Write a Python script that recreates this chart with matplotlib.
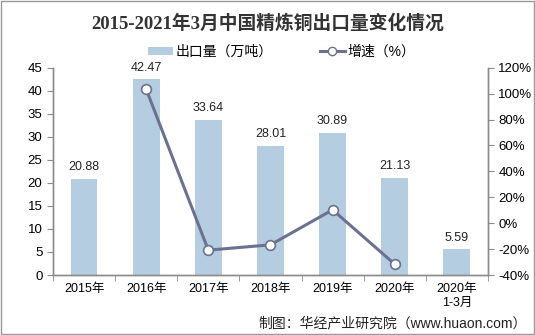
import numpy as np
import matplotlib.pyplot as plt
from matplotlib.lines import Line2D
from matplotlib.patches import Patch

plt.rcParams['font.family'] = ['Liberation Sans', 'Noto Sans CJK SC']

# Data
years = ['2015年', '2016年', '2017年', '2018年', '2019年', '2020年', '2020年\n1-3月']
export_vol = [20.88, 42.47, 33.64, 28.01, 30.89, 21.13, 5.59]
growth = [np.nan, 103.4, -20.8, -16.7, 10.3, -31.6, np.nan]

bar_color = '#B4CDE0'
line_color = '#6B7291'
axis_color = '#8C8C8C'

fig = plt.figure(figsize=(5.35, 3.35), dpi=100)
ax = fig.add_axes([0.099, 0.179, 0.813, 0.619])
ax2 = ax.twinx()

x = np.arange(len(years))
ax.bar(x, export_vol, width=0.43, color=bar_color, zorder=2)
for xi, v in zip(x, export_vol):
    ax.text(xi, v + 1.2, f'{v:.2f}', ha='center', va='bottom', fontsize=9, color='#222222')

ax2.plot(x, growth, color=line_color, linewidth=2.2, marker='o', markersize=7,
         markerfacecolor='white', markeredgecolor=line_color, markeredgewidth=1.2, zorder=3)

ax.set_xlim(-0.5, len(years) - 0.5)
ax.set_ylim(0, 45)
ax.set_yticks(np.arange(0, 46, 5))
ax2.set_ylim(-40, 120)
ax2.set_yticks(np.arange(-40, 121, 20))
ax2.set_yticklabels([f'{t}%' for t in range(-40, 121, 20)])

# x ticks: labels at centres, tick marks at boundaries
ax.set_xticks(x)
ax.set_xticklabels(years, fontsize=9)
ax.tick_params(axis='x', length=0, pad=6)
ax.set_xticks(np.arange(-0.5, len(years), 1), minor=True)
ax.tick_params(axis='x', which='minor', length=4, color=axis_color, direction='out')

ax.tick_params(axis='y', labelsize=9.5, length=4, color=axis_color)
ax2.tick_params(axis='y', labelsize=9.5, length=4, color=axis_color)

for a in (ax, ax2):
    a.spines['top'].set_visible(False)
    for s in ('left', 'right', 'bottom'):
        a.spines[s].set_color(axis_color)
        a.spines[s].set_linewidth(1.0)

fig.text(0.5, 0.93, '2015-2021年3月中国精炼铜出口量变化情况', ha='center', va='center',
         fontsize=13.5, fontweight='bold', color='#333333',
         family=['Liberation Serif', 'Noto Sans CJK SC'])

handles = [Patch(facecolor=bar_color, edgecolor='none'),
           Line2D([0], [0], color=line_color, linewidth=2.2, marker='o', markersize=6,
                  markerfacecolor='white', markeredgecolor=line_color)]
fig.legend(handles, ['出口量（万吨）', '增速（%）'], loc='center', bbox_to_anchor=(0.526, 0.845),
           ncol=2, frameon=False, fontsize=10, handlelength=1.8, handleheight=0.5,
           handletextpad=0.2, columnspacing=3.4)

fig.text(0.985, 0.035, '制图：华经产业研究院（www.huaon.com）', ha='right', va='center',
         fontsize=10, color='#222222')

# outer frame
fig.patches.append(plt.Rectangle((0.002, 0.003), 0.996, 0.994, transform=fig.transFigure,
                                 fill=False, edgecolor='#999999', linewidth=1.0))

fig.savefig('out.png', dpi=100)
